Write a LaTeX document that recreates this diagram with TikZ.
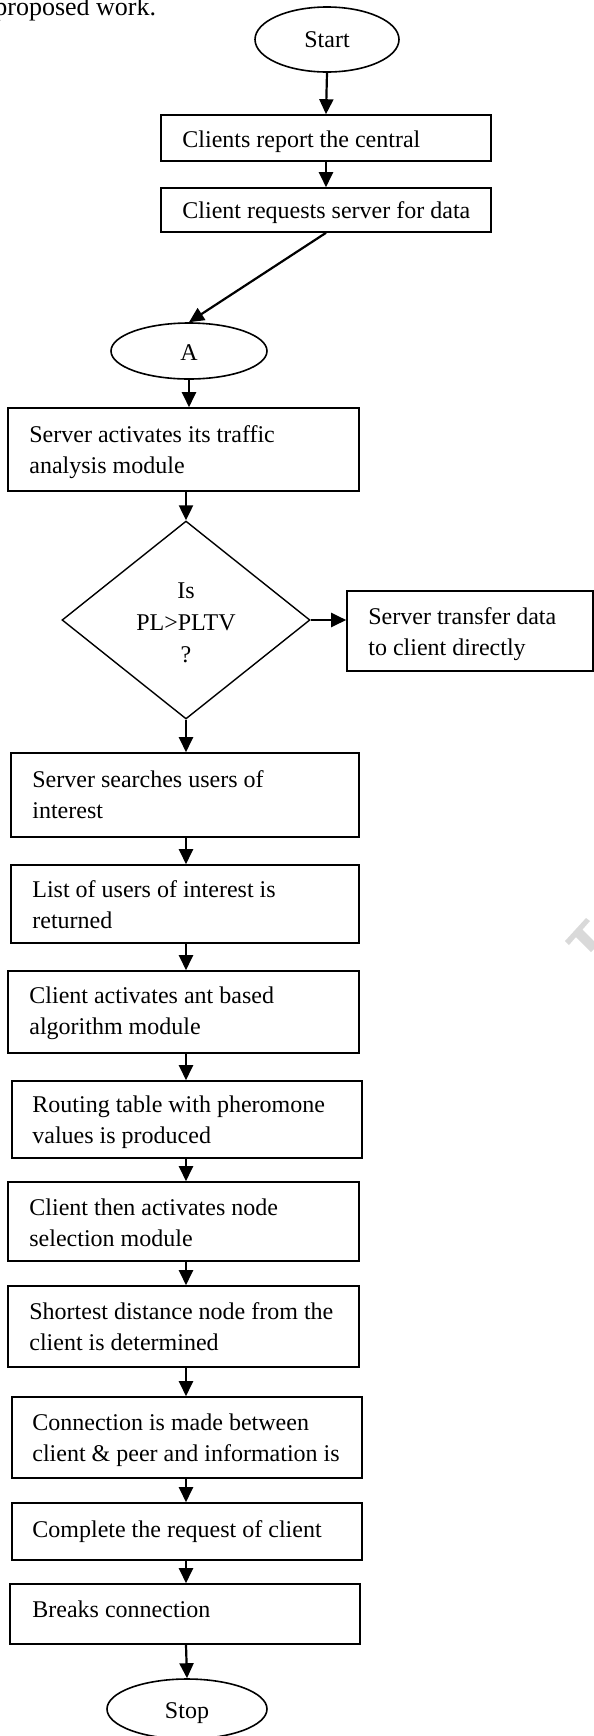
\documentclass[tikz,border=0pt]{standalone}
\usepackage{fontspec}
\setmainfont{Liberation Serif}
\usetikzlibrary{shapes.geometric, arrows.meta}
\begin{document}
\begin{tikzpicture}[x=0.5pt,y=-0.5pt,
  box/.style={draw, line width=0.8pt, inner sep=0pt, rectangle},
  oval/.style={draw, line width=0.8pt, inner sep=0pt, ellipse},
  dia/.style={draw, line width=0.7pt, inner sep=0pt, diamond},
  txt/.style={anchor=base west, align=left, inner sep=0pt, font=\fontsize{12}{15.5}\selectfont},
  ctxt/.style={anchor=base, align=center, inner sep=0pt, font=\fontsize{12}{16}\selectfont},
  arr/.style={line width=1.1pt, -{Triangle[length=7.5pt, width=7pt]}}]
\useasboundingbox (0,0) rectangle (594,1736);

% faint watermark fragment at the right edge
\fill[gray!30] (565,941) -- (586,918) -- (590,921) -- (569,945) -- cycle;
\fill[gray!30] (574,935) -- (581,928) -- (598,945) -- (591,952) -- cycle;

\node[anchor=base west, inner sep=0pt, font=\fontsize{13}{15}\selectfont] (cap) at (-6,15) {proposed work.};

% terminals
\node[oval, minimum width=72pt, minimum height=32.5pt] (start) at (327,39.5) {};
\node[ctxt] (tstart) at (327,47) {Start};
\node[oval, minimum width=78pt, minimum height=28pt] (A) at (189,351) {};
\node[ctxt] (tA) at (189,360) {A};
\node[oval, minimum width=80pt, minimum height=30pt] (stop) at (187,1709) {};
\node[ctxt] (tstop) at (187,1718) {Stop};

% boxes
\node[box, minimum width=165pt, minimum height=23pt] (b1) at (326,138) {};
\node[txt] (t1) at (182,147) {Clients report the central};
\node[box, minimum width=165pt, minimum height=22pt] (b2) at (326,210) {};
\node[txt] (t2) at (182,218) {Client requests server for data};
\node[box, minimum width=175.5pt, minimum height=41.5pt] (b3) at (183.5,449.5) {};
\node[txt] (t3) at (29,473) {Server activates its traffic\\analysis module};

\node[dia, minimum width=124pt, minimum height=99pt] (d) at (186,620) {};
\node[ctxt] (td) at (186,662) {Is\\PL>PLTV\\?};

\node[box, minimum width=123pt, minimum height=40pt] (s) at (470,631) {};
\node[txt] (ts) at (368,655) {Server transfer data\\to client directly};

\node[box, minimum width=174pt, minimum height=42pt] (b4) at (185,795) {};
\node[txt] (t4) at (32,818) {Server searches users of\\interest};
\node[box, minimum width=174pt, minimum height=39pt] (b5) at (185,904) {};
\node[txt] (t5) at (32,928) {List of users of interest is\\returned};
\node[box, minimum width=175.5pt, minimum height=41pt] (b6) at (183.5,1012) {};
\node[txt] (t6) at (29,1034) {Client activates ant based\\algorithm module};
\node[box, minimum width=175pt, minimum height=38.5pt] (b7) at (187,1119.5) {};
\node[txt] (t7) at (32,1143) {Routing table with pheromone\\values is produced};
\node[box, minimum width=175.5pt, minimum height=39.5pt] (b8) at (183.5,1221.5) {};
\node[txt] (t8) at (29,1246) {Client then activates node\\selection module};
\node[box, minimum width=175.5pt, minimum height=40.5pt] (b9) at (183.5,1326.5) {};
\node[txt] (t9) at (29,1350) {Shortest distance node from the\\client is determined};
\node[box, minimum width=175pt, minimum height=40.5pt] (b10) at (187,1437.5) {};
\node[txt] (t10) at (32,1461) {Connection is made between\\client \& peer and information is};
\node[box, minimum width=175pt, minimum height=28.5pt] (b11) at (187,1531.5) {};
\node[txt] (t11) at (32,1537) {Complete the request of client};
\node[box, minimum width=175pt, minimum height=30pt] (b12) at (185,1614) {};
\node[txt] (t12) at (32,1617) {Breaks connection};

% connectors
\draw[arr] (start.south) -- (b1.north);
\draw[arr] (b1.south) -- (b2.north);
\draw[arr] (b2.south) -- (A.north);
\draw[arr] (A.south) -- (A.south |- b3.north);
\draw[arr] (b3.south -| d.north) -- (d.north);
\draw[arr] (d.east) -- (d.east -| s.west);
\draw[arr] (d.south) -- (d.south |- b4.north);
\draw[arr] (b4.south -| d.south) -- (b5.north -| d.south);
\draw[arr] (b5.south -| d.south) -- (b6.north -| d.south);
\draw[arr] (b6.south -| d.south) -- (b7.north -| d.south);
\draw[arr] (b7.south -| d.south) -- (b8.north -| d.south);
\draw[arr] (b8.south -| d.south) -- (b9.north -| d.south);
\draw[arr] (b9.south -| d.south) -- (b10.north -| d.south);
\draw[arr] (b10.south -| d.south) -- (b11.north -| d.south);
\draw[arr] (b11.south -| d.south) -- (b12.north -| d.south);
\draw[arr] (b12.south -| d.south) -- (stop.north);
\end{tikzpicture}
\end{document}
